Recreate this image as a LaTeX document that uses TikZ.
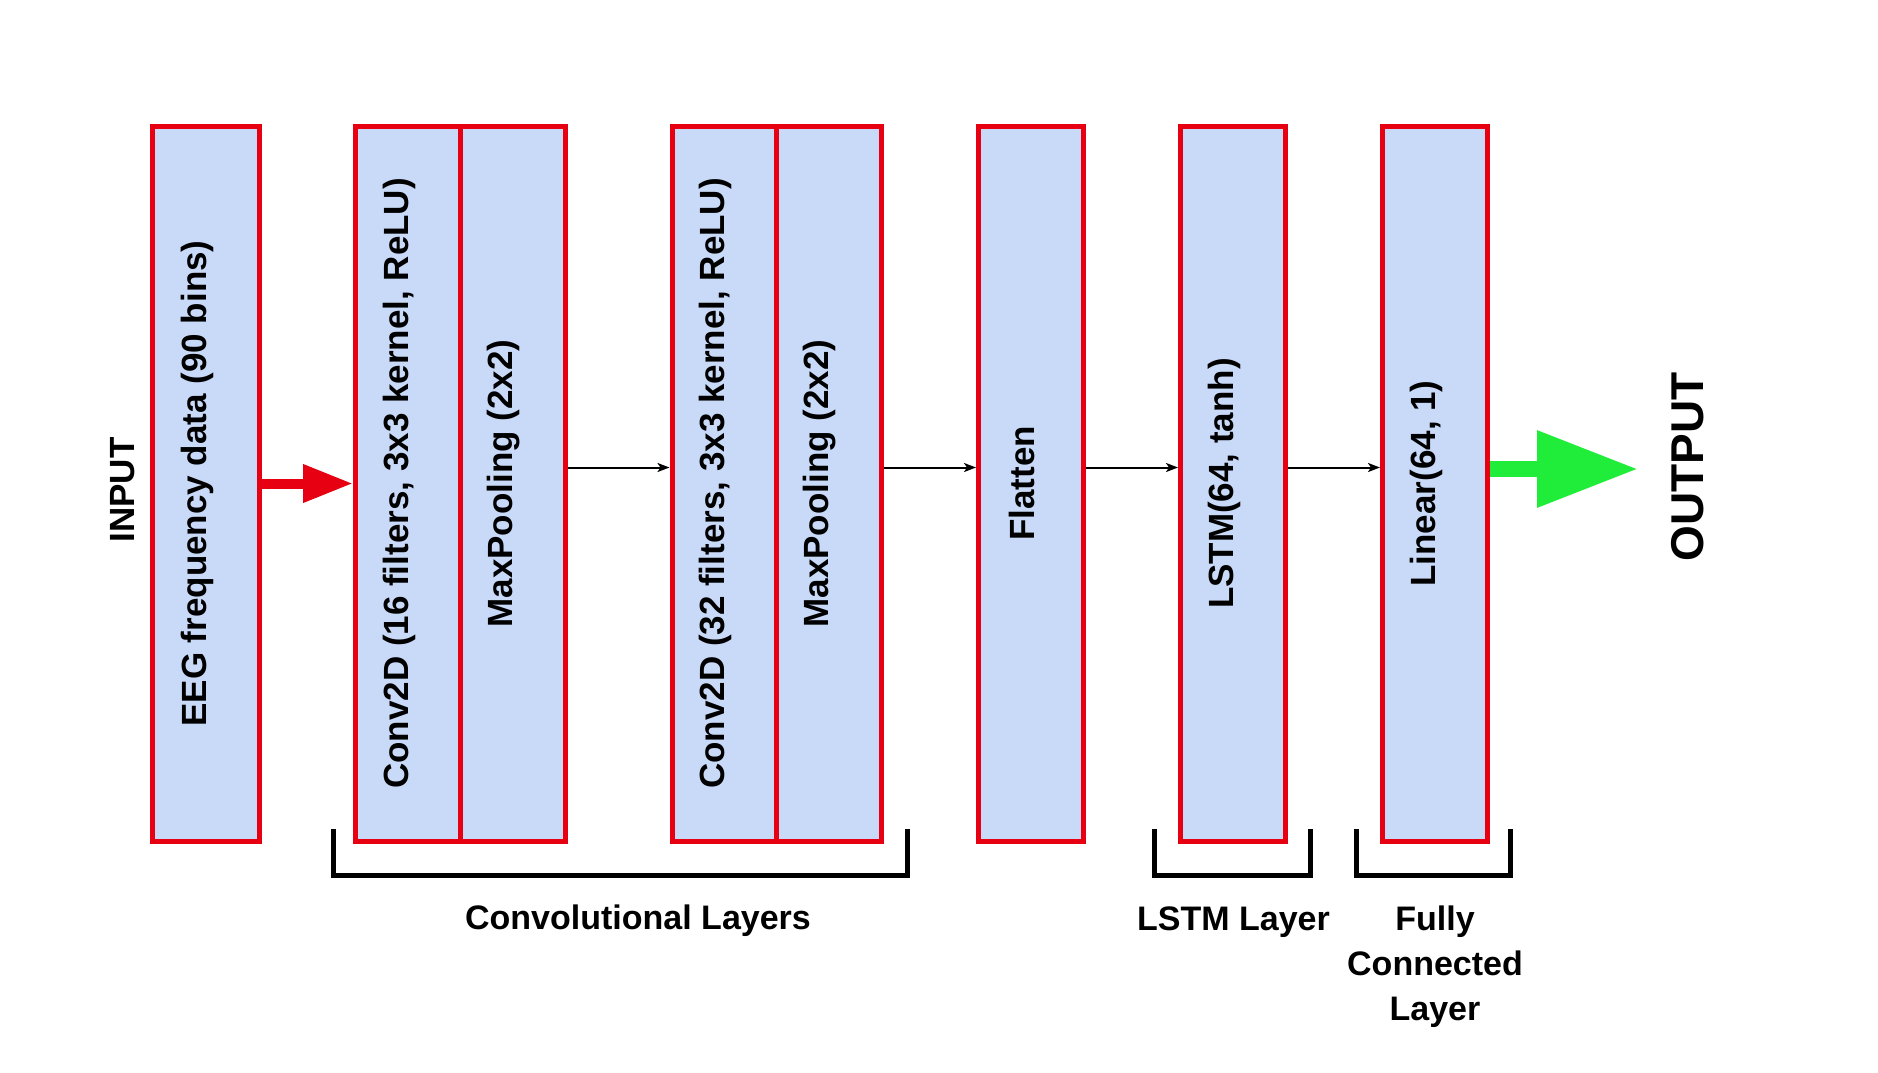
\documentclass[tikz,border=0pt]{standalone}
\usepackage{fontspec}
\setmainfont{Liberation Sans}
\usetikzlibrary{arrows.meta}
\definecolor{boxfill}{RGB}{201,218,248}
\definecolor{boxred}{RGB}{230,0,18}
\definecolor{arrgreen}{RGB}{32,236,58}
\newcommand{\vlab}[1]{\rotatebox{90}{#1}\hspace*{9pt}}
\begin{document}
\begin{tikzpicture}[x=0.5pt,y=-0.5pt,
  layer/.style={draw=boxred, fill=boxfill, line width=2.5pt, minimum width=52.5pt,
    minimum height=357.5pt, inner sep=0pt, font=\bfseries\fontsize{17.5}{21}\selectfont},
  thinarr/.style={draw=black, line width=1pt, -{Stealth[length=6pt,width=4.5pt,inset=1.5pt]}},
  redarr/.style={draw=boxred, line width=5pt, -{Triangle[length=25pt,width=18pt]}},
  greenarr/.style={draw=arrgreen, line width=8pt, -{Triangle[length=50.5pt,width=36.5pt]}},
  bracketline/.style={draw=black, line width=2.5pt},
  lbl/.style={font=\bfseries\fontsize{17}{22.5}\selectfont, inner sep=0pt, align=center},
  sidelbl/.style={rotate=90, font=\bfseries\fontsize{17.5}{21}\selectfont, inner sep=0pt}
]
\useasboundingbox (0,0) rectangle (1878,1072);
\fill[white] (0,0) rectangle (1878,1072);

\node[layer, minimum width=53.5pt] (eeg) at (206,483.5) {\vlab{EEG frequency data (90 bins)}};
\node[layer] (conv1a) at (408,483.5) {\vlab{Conv2D (16 filters, 3x3 kernel, ReLU)}};
\node[layer] (conv1b) at (512.5,483.5) {\vlab{MaxPooling (2x2)}};
\node[layer] (conv2a) at (724.5,483.5) {\vlab{Conv2D (32 filters, 3x3 kernel, ReLU)}};
\node[layer] (conv2b) at (829,483.5) {\vlab{MaxPooling (2x2)}};
\node[layer] (flat) at (1031,483.5) {\vlab{Flatten}};
\node[layer] (lstm) at (1233,483.5) {\vlab{LSTM(64, tanh)}};
\node[layer] (linear) at (1435,483.5) {\vlab{Linear(64, 1)}};

\node[sidelbl] (inp) at (123,490) {INPUT};
\node[sidelbl, font=\bfseries\fontsize{23}{27}\selectfont] (outp) at (1688,467) {OUTPUT};

\draw[redarr] (eeg.east) -- (conv1a.west);
\draw[thinarr] ([yshift=8pt]conv1b.east) -- ([yshift=8pt]conv2a.west);
\draw[thinarr] ([yshift=8pt]conv2b.east) -- ([yshift=8pt]flat.west);
\draw[thinarr] ([yshift=8pt]flat.east) -- ([yshift=8pt]lstm.west);
\draw[thinarr] ([yshift=8pt]lstm.east) -- ([yshift=8pt]linear.west);
\coordinate (gtip) at (1638,469);
\draw[greenarr] (linear.east |- gtip) -- (gtip);

\draw[bracketline] (333.5,829) -- (333.5,875.5) -- (907.5,875.5) -- (907.5,829);
\draw[bracketline] (1154.5,829) -- (1154.5,875.5) -- (1310.5,875.5) -- (1310.5,829);
\draw[bracketline] (1356.5,829) -- (1356.5,875.5) -- (1510.5,875.5) -- (1510.5,829);

\node[lbl, anchor=base] (convl) at (638,929) {Convolutional Layers};
\node[lbl, anchor=base] (lstml) at (1233.5,930) {LSTM Layer};
\node[lbl, anchor=base] (fcl) at (1435,1020) {Fully\\Connected\\Layer};
\end{tikzpicture}
\end{document}
